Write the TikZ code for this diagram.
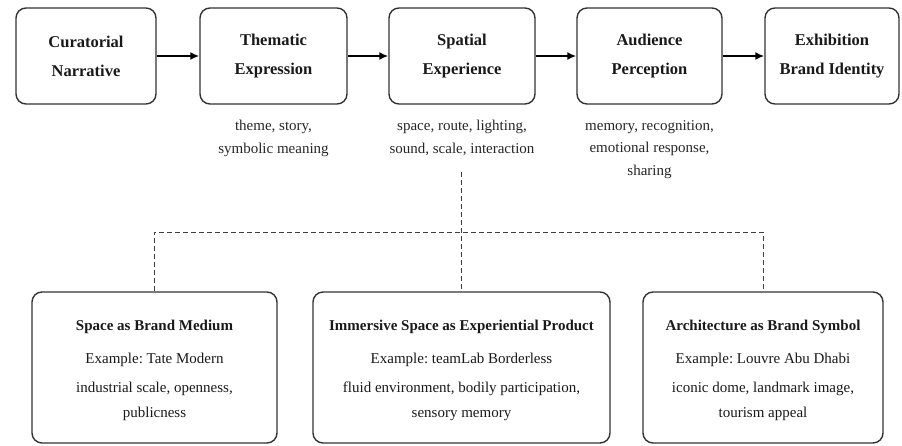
\documentclass[tikz,border=0pt]{standalone}
\usepackage{fontspec}
\setmainfont{Liberation Serif}
\usetikzlibrary{arrows.meta}
\frenchspacing

\begin{document}
\begin{tikzpicture}[x=1pt,y=1pt]
  \tikzstyle{stageStyle}=[rounded corners=10pt,draw=black!80,line width=1.4pt,minimum height=96pt,align=center,text=black!90,font=\fontsize{16.5}{29}\selectfont\bfseries]
  \tikzstyle{noteStyle}=[align=center,inner sep=0pt,anchor=north,text=black!85,font=\fontsize{15}{22.5}\selectfont]
  \tikzstyle{caseStyle}=[rounded corners=10pt,draw=black!80,line width=1.4pt,minimum height=151pt,align=center,text=black!90,font=\fontsize{15}{25}\selectfont]
  \tikzstyle{flowArrow}=[line width=1.9pt,-{Latex[length=9pt,width=8pt]}]
  \tikzstyle{dashLine}=[dash pattern=on 5pt off 3pt,line width=0.9pt,draw=black!75]

  \useasboundingbox (0,0) rectangle (902,-445);

  % main chain
  \node[stageStyle,minimum width=140pt](curatorial) at (86,-56) {Curatorial\\Narrative};
  \node[stageStyle,minimum width=147pt](thematic) at (273.5,-56) {Thematic\\Expression};
  \draw[flowArrow] (curatorial) -- (thematic);
  \node[stageStyle,minimum width=146pt](spatial) at (462,-56) {Spatial\\Experience};
  \draw[flowArrow] (thematic) -- (spatial);
  \node[stageStyle,minimum width=145pt](audience) at (649.5,-56) {Audience\\Perception};
  \draw[flowArrow] (spatial) -- (audience);
  \node[stageStyle,minimum width=134pt](identity) at (832,-56) {Exhibition\\Brand Identity};
  \draw[flowArrow] (audience) -- (identity);

  % notes under the stages
  \node[noteStyle](thematicNote) at (273.5,-120) {theme, story,\\symbolic meaning};
  \node[noteStyle](spatialNote) at (462,-120) {space, route, lighting,\\sound, scale, interaction};
  \node[noteStyle](audienceNote) at (649.5,-120) {memory, recognition,\\emotional response,\\sharing};

  % cases
  \node[caseStyle,minimum width=245pt](mediumCase) at (154.5,-367.5) {\rule{0pt}{16.5pt}\textbf{Space as Brand Medium}\\[8pt]Example: Tate Modern\\[4pt]industrial scale, openness,\\publicness};
  \node[caseStyle,minimum width=297pt](productCase) at (461.5,-367.5) {\rule{0pt}{16.5pt}\textbf{Immersive Space as Experiential Product}\\[8pt]Example: teamLab Borderless\\[4pt]fluid environment, bodily participation,\\sensory memory};
  \node[caseStyle,minimum width=240pt](symbolCase) at (763,-367.5) {\rule{0pt}{16.5pt}\textbf{Architecture as Brand Symbol}\\[8pt]Example: Louvre Abu Dhabi\\[4pt]iconic dome, landmark image,\\tourism appeal};

  % dashed links
  \coordinate (busTop) at (461.5,-172);
  \coordinate (busMid) at (461.5,-232);
  \draw[dashLine] (busTop) -- (productCase.north);
  \draw[dashLine] (mediumCase.north) |- (busMid) -| (symbolCase.north);
\end{tikzpicture}
\end{document}
